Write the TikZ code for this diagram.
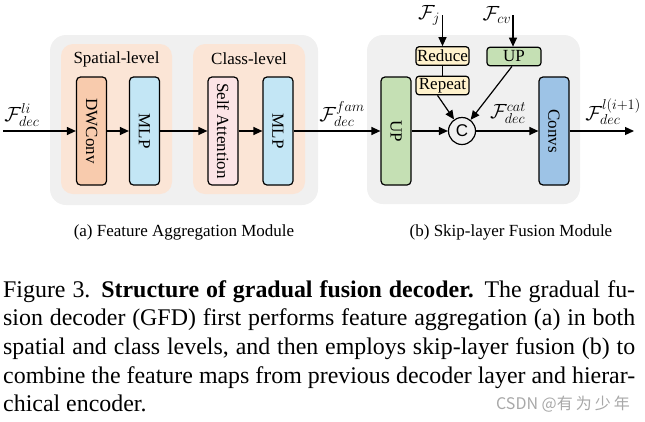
\documentclass[tikz,border=0pt]{standalone}
\usepackage{fix-cm}
\usepackage{fontspec}
\setmainfont{Liberation Serif}
\newfontfamily\cjk{Noto Sans CJK SC}
\newfontfamily\arialf{Liberation Sans}
\usetikzlibrary{arrows.meta}
\definecolor{bggray}{HTML}{F0F0F0}
\definecolor{peach}{HTML}{FBE5D6}
\definecolor{dwc}{HTML}{F8CBAD}
\definecolor{mlpc}{HTML}{C3E6F5}
\definecolor{sac}{HTML}{FCE4E6}
\definecolor{upc}{HTML}{C5E0B4}
\definecolor{yelc}{HTML}{FFF2CC}
\definecolor{convc}{HTML}{9DC3E6}
\definecolor{wmc}{HTML}{A8A8A8}
\newcommand\dfont{\fontsize{17}{20}\selectfont}
\newcommand\mfont{\fontsize{20.5}{23}\selectfont}
\newcommand\cfont{\fontsize{23.9}{28.7}\selectfont}
\begin{document}
\begin{tikzpicture}[x=1pt,y=-1pt,
 panel/.style={fill=bggray, rounded corners=16pt, inner sep=0pt},
 level/.style={fill=peach, rounded corners=12pt, inner sep=0pt, minimum width=111pt, minimum height=150pt},
 tall/.style={draw, line width=1.2pt, rounded corners=4pt, minimum width=30pt, minimum height=108pt, inner sep=0pt, font=\dfont},
 small/.style={draw, line width=1.2pt, rounded corners=3pt, minimum width=53pt, minimum height=18.5pt, inner sep=0pt, font=\dfont},
 arr/.style={line width=1.2pt, -{Triangle[length=9pt,width=8pt]}},
 ln/.style={line width=1.2pt},
 lab/.style={font=\dfont, inner sep=0pt},
 mlab/.style={font=\mfont, inner sep=0pt},
 capline/.style={font=\cfont, inner sep=0pt, anchor=base west}]

\useasboundingbox (0,0) rectangle (645,421);

% panels
\node[panel, minimum width=268pt, minimum height=170pt] (pa) at (184,120) {};
\node[panel, minimum width=213pt, minimum height=169pt] (pb) at (473.5,119.5) {};
\node[level] (spl) at (116.5,119) {};
\node[level, minimum width=112pt] (cll) at (249,119) {};
\node[lab] (spt) at (116.5,59) {Spatial-level};
\node[lab] (clt) at (249,59) {Class-level};

% blocks of (a)
\node[tall, fill=dwc] (dw) at (91.5,131) {\rotatebox{-90}{DWConv}};
\node[tall, fill=mlpc] (m1) at (144.5,131) {\rotatebox{-90}{MLP}};
\node[tall, fill=sac] (sa) at (223,131) {\rotatebox{-90}{Self Attention}};
\node[tall, fill=mlpc] (m2) at (278,131) {\rotatebox{-90}{MLP}};

% blocks of (b)
\node[tall, fill=upc] (up) at (396,131) {\rotatebox{-90}{UP}};
\node[tall, fill=convc] (cv) at (554,131) {\rotatebox{-90}{Convs}};
\node[small, fill=yelc] (red) at (442.5,56) {Reduce};
\node[small, fill=yelc] (rep) at (442.5,85.5) {Repeat};
\node[small, fill=upc, minimum width=54pt] (ups) at (514,56.5) {UP};
\node[circle, draw, line width=1.2pt, minimum size=27pt, inner sep=0pt, font=\dfont\arialf] (cc) at (462,131) {C};

% labels
\node[mlab] (lin) at (22,115) {$\mathcal{F}_{dec}^{li}$};
\node[mlab] (lfam) at (342,114) {$\mathcal{F}_{dec}^{fam}$};
\node[mlab] (lcat) at (508,113) {$\mathcal{F}_{dec}^{cat}$};
\node[mlab] (lout) at (613,112) {$\mathcal{F}_{dec}^{l(i+1)}$};
\node[mlab] (lj) at (429,15) {$\mathcal{F}_j$};
\node[mlab] (lcv) at (497,15) {$\mathcal{F}_{cv}$};

\coordinate (in) at (3,131);
\coordinate (out) at (634,131);
\coordinate (tj) at (442.5,15);
\coordinate (tcv) at (513,15);

% connectors
\draw[arr] (in) -- (dw);
\draw[arr] (dw) -- (m1);
\draw[arr] (m1) -- (sa);
\draw[arr] (sa) -- (m2);
\draw[arr] (m2) -- (up);
\draw[arr] (up) -- (cc);
\draw[arr] (cc) -- (cv);
\draw[arr] (cv) -- (out);
\draw[arr] (tj) -- (red);
\draw[ln] (red) -- (rep);
\draw[arr] (tcv) -- (tcv |- ups.north);
\draw[arr] ([xshift=-5pt]rep.south) -- (cc);
\draw[arr] ([xshift=-2pt]ups.south) -- (cc);

% sub-captions
\node[lab] (capa) at (184,232) {(a) Feature Aggregation Module};
\node[lab] (capb) at (511,232) {(b) Skip-layer Fusion Module};

% figure caption
\node[capline] (c1) at (3,297) {\makebox[632pt][s]{Figure 3. \textbf{Structure of gradual fusion decoder.} The gradual fu-}};
\node[capline] (c2) at (3,325.5) {\makebox[632pt][s]{sion decoder (GFD) first performs feature aggregation (a) in both}};
\node[capline] (c3) at (3,354) {\makebox[632pt][s]{spatial and class levels, and then employs skip-layer fusion (b) to}};
\node[capline] (c4) at (3,383) {\makebox[632pt][s]{combine the feature maps from previous decoder layer and hierar-}};
\node[capline] (c5) at (3,411.5) {chical encoder.};

\node[inner sep=0pt, anchor=base east, text=wmc, font=\fontsize{16}{18}\selectfont\cjk] (wm) at (630,409) {CSDN @有\hspace{3pt}为\hspace{3pt}少\hspace{3pt}年};
\end{tikzpicture}
\end{document}
